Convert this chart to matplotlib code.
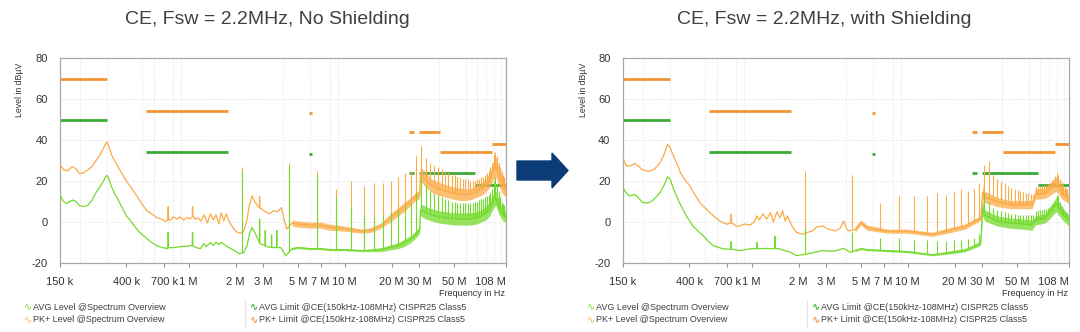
import numpy as np
import matplotlib.pyplot as plt
from matplotlib.patches import FancyArrow
from matplotlib.ticker import FixedLocator, FixedFormatter, LogLocator, NullFormatter

plt.rcParams['font.family'] = ['Liberation Sans', 'DejaVu Sans']
plt.rcParams['axes.unicode_minus'] = False

# ---- data (frequency in MHz, level in dBuV) ----
titles = ['CE, Fsw = 2.2MHz, No Shielding', 'CE, Fsw = 2.2MHz, with Shielding']

tick_pos = [0.15, 0.4, 0.7, 1, 2, 3, 5, 7, 10, 20, 30, 50, 108]
tick_labels = ['150 k', '400 k', '700 k', '1 M', '2 M', '3 M', '5 M', '7 M', '10 M',
               '20 M', '30 M', '50 M', '108 M']

# CISPR25 class 5 limits
pk_lim_start = [0.15, 0.53, 5.9, 26, 30, 41, 88]
pk_lim_stop = [0.3, 1.8, 6.2, 28, 41, 88, 108]
pk_lim_level = [70, 54, 53, 44, 44, 34, 38]
avg_lim_start = [0.15, 0.53, 5.9, 26, 30, 68]
avg_lim_stop = [0.3, 1.8, 6.2, 28, 68, 108]
avg_lim_level = [50, 34, 33, 24, 24, 18]

# switching harmonics
harm_f = [2.2, 4.4, 6.6, 8.8, 11.0, 13.2, 15.4, 17.6, 19.8, 22.0,
          24.2, 26.4, 28.6, 30.8, 33.0, 35.2, 37.4, 39.6, 41.8, 44.0,
          46.2, 48.4, 50.6, 52.8, 55.0, 57.2, 59.4, 61.6, 63.8, 66.0,
          68.2, 70.4, 72.6, 74.8, 77.0, 79.2, 81.4, 83.6, 85.8, 88.0,
          90.2, 92.4, 94.6, 96.8, 99.0, 101.2, 103.4, 105.6, 107.8]

# no shielding: PK+ level
pk_f_ns = [0.15, 0.158, 0.168, 0.18, 0.19, 0.2, 0.212, 0.225, 0.24, 0.258,
           0.272, 0.285, 0.295, 0.3, 0.31, 0.322, 0.335, 0.35, 0.375, 0.4,
           0.43, 0.466, 0.5, 0.54, 0.58, 0.626, 0.67, 0.71, 0.735, 0.74,
           0.745, 0.77, 0.8, 0.84, 0.88, 0.93, 0.98, 1.02, 1.055, 1.06,
           1.065, 1.1, 1.15, 1.2, 1.26, 1.32, 1.38, 1.44, 1.5, 1.56,
           1.62, 1.68, 1.74, 1.8, 1.86, 1.95, 2.05, 2.15, 2.25, 2.35,
           2.45, 2.55, 2.65, 2.8, 2.845, 2.85, 2.855, 3.1, 3.3, 3.5,
           3.7, 3.93, 4.1, 4.25, 4.6, 5.0, 6.0, 7.0, 8.0, 10.0,
           13.0, 15.0, 17.0, 20.0, 22.0, 24.0, 26.0, 28.0, 30.2, 30.6,
           33.0, 36.0, 40.0, 45.0, 50.0, 55.0, 60.0, 65.0, 70.0, 75.0,
           80.0, 85.0, 90.0, 93.0, 97.0, 102.0, 108.0]
pk_ns = [28, 25.5, 25, 27, 26, 23.5, 24, 25.3, 27, 30.5,
         33, 36, 38.5, 39, 36.5, 32.5, 30, 27.5, 23.5, 20,
         16.5, 12.7, 9, 5.5, 4, 2.2, 1.5, 0.3, 0.8, 7.5,
         1, 1, 2.5, 1.4, 2.5, 1, 2.2, 1.5, 2.5, 7.5,
         3, 1.4, 2, 0.5, 3.5, -0.5, 4, 1, 3.5, -1,
         4.5, 0.5, 4, 1, -1, -3.5, -5, -5.5, -4.5, 0,
         8, 12.7, 10, 7.5, 7, 12.5, 7, 5, 4, 5.5,
         5, 7, 1, -3.5, -0.5, -1, -1.5, -1.5, -2.5, -3.3,
         -4.5, -3.8, -1.8, 2.7, 5, 7.2, 9.5, 12, 13.5, 23.5,
         20.5, 17.8, 16.2, 15, 14, 13.5, 13.2, 13.7, 14.7, 16,
         17.7, 20.5, 25.5, 27, 22.5, 18, 15]

# no shielding: AVG level
avg_f_ns = [0.15, 0.158, 0.166, 0.18, 0.19, 0.2, 0.212, 0.225, 0.24, 0.258,
            0.272, 0.285, 0.298, 0.305, 0.315, 0.322, 0.335, 0.35, 0.375, 0.4,
            0.43, 0.466, 0.5, 0.54, 0.58, 0.626, 0.68, 0.735, 0.74, 0.745,
            0.8, 0.89, 0.98, 1.055, 1.06, 1.065, 1.12, 1.19, 1.25, 1.3,
            1.38, 1.44, 1.5, 1.56, 1.62, 1.7, 1.77, 1.86, 1.98, 2.1,
            2.25, 2.37, 2.45, 2.55, 2.65, 2.845, 2.85, 2.855, 3.09, 3.1,
            3.11, 3.33, 3.39, 3.4, 3.41, 3.66, 3.67, 3.68, 3.9, 4.2,
            4.6, 5.0, 6.0, 7.0, 8.0, 10.0, 13.0, 15.0, 17.0, 20.0,
            22.0, 24.0, 26.0, 28.0, 30.2, 30.6, 33.0, 36.0, 40.0, 45.0,
            50.0, 55.0, 60.0, 65.0, 70.0, 75.0, 80.0, 85.0, 90.0, 93.0,
            97.0, 102.0, 108.0]
avg_ns = [13.2, 10, 9, 10.7, 10, 8, 7.6, 8, 10.5, 15,
          17.5, 20, 22.7, 22, 19, 17, 14, 11.5, 7, 3,
          0, -3.5, -6, -8, -10, -11.6, -12.5, -13, -5, -12.5,
          -12.5, -12, -11.8, -11.5, -5, -11.5, -12.5, -13, -10.5, -12,
          -10, -11.5, -9.8, -11, -10, -11, -12, -13, -14, -15.5,
          -15, -11.6, -6, -2.7, -5, -10, 1.4, -10.5, -11.5, -4.2,
          -11.8, -12.4, -12.4, -6.3, -12.4, -12.5, -4.2, -12.5, -12.5, -16.5,
          -13, -12.5, -13, -13, -13.5, -13.5, -14, -13.75, -13.5, -12.25,
          -11.5, -10.25, -8.75, -6.75, -3.75, 6, 4.5, 3.5, 2.5, 2,
          1.5, 1.5, 1.5, 1.5, 2, 3, 4.25, 6.5, 10.5, 11.5,
          7.5, 4, 2.25]

# no shielding: spread of the noisy part
band_f_ns = [4.6, 5, 6, 7, 8, 10, 13, 15, 17, 20,
             22, 24, 26, 28, 30.2, 30.6, 33, 36, 40, 45,
             50, 55, 60, 65, 70, 75, 80, 85, 90, 93,
             97, 102, 108]
pk_lo_ns = [-2, -2.5, -3, -3, -4, -4.5, -5.5, -5, -3, 0.5,
            3, 5, 7.5, 10, 11.5, 20, 17, 14.5, 13, 12,
            11, 10.5, 10.5, 11, 12, 13, 14.5, 17, 21, 22,
            18, 14, 12]
pk_hi_ns = [1, 0.5, 0, 0, -1, -2, -3.5, -2.5, -0.5, 4.5,
            7, 9.5, 11.5, 14, 15.5, 27, 24, 21, 19.5, 18,
            17, 16.5, 16, 16.5, 17.5, 19, 21, 24, 30, 32,
            27, 22, 18]
avg_lo_ns = [-13.5, -13, -13.5, -13.5, -14, -14, -14.5, -14.5, -14.5, -13.5,
             -13, -12, -10.5, -8.5, -5.5, 3, 1.5, 0.5, -0.5, -1,
             -1.5, -1.5, -1.5, -1.5, -1, 0, 1, 3, 7, 8,
             4, 1, -0.5]
avg_hi_ns = [-12.5, -12, -12.5, -12.5, -13, -13, -13.5, -13, -12.5, -11,
             -10, -8.5, -7, -5, -2, 9, 7.5, 6.5, 5.5, 5,
             4.5, 4.5, 4.5, 4.5, 5, 6, 7.5, 10, 14, 15,
             11, 7, 5]

pk_spike_ns = [27, 29, 25, 16, 20, 17.5, 19, 19, 20, 22,
               24, 25, 32, 37, 31, 29, 28, 27, 26, 25,
               24, 23, 23, 22, 22, 21, 21, 21, 20, 20,
               20, 21, 21, 22, 22, 23, 24, 25, 27, 29,
               33, 34, 32, 29, 27, 25, 23, 22, 21]
avg_spike_ns = [25, 28, 23, 12, 8, 4, 3, 4, 5, 6,
                8, 10, 14, 22, 18, 15, 14, 13, 12, 11,
                10.5, 10, 10, 9.5, 9.5, 9.5, 9.5, 9.5, 9.5, 9.5,
                10, 10, 10.5, 11, 11, 12, 12.5, 13, 14, 16,
                20, 22, 19, 15, 12, 10, 9, 8.5, 8]

# with shielding: PK+ level
pk_f_ws = [0.15, 0.158, 0.168, 0.179, 0.19, 0.198, 0.21, 0.224, 0.24, 0.259,
           0.275, 0.289, 0.3, 0.316, 0.335, 0.35, 0.375, 0.403, 0.435, 0.467,
           0.5, 0.54, 0.58, 0.625, 0.69, 0.735, 0.74, 0.745, 0.8, 0.84,
           0.9, 0.98, 1.04, 1.08, 1.12, 1.18, 1.25, 1.32, 1.38, 1.45,
           1.52, 1.58, 1.64, 1.7, 1.76, 1.85, 1.94, 2.1, 2.3, 2.47,
           2.6, 2.85, 3.1, 3.47, 3.7, 3.89, 4.05, 4.18, 4.6, 5.0,
           5.5, 7.4, 10.0, 14.4, 19.2, 23.3, 28.3, 29.4, 30.2, 31.1,
           37.5, 45.0, 54.0, 62.6, 65.7, 76.0, 89.5, 98.0, 108.0]
pk_ws = [30.8, 27.2, 27.5, 28.5, 27, 25.6, 25, 24.8, 26, 28.9,
         33, 37.8, 36.5, 32, 28, 24, 20.5, 17.5, 13, 9.5,
         7, 4.6, 2.5, 0.5, -1.1, -0.5, 3.7, -0.5, -2, -1.9,
         -1, -1.5, 0, 3, 1, 4, 1.4, 4.5, 0, 5,
         2, 5.5, 0.5, 3, 0, -3, -5.1, -5.9, -5, -4.3,
         -2.5, -1.9, -3.5, -4.3, -3, 0.5, -3, -4.3, -3.75, -0.25,
         -2.75, -4.5, -4.5, -6, -3.75, -2.25, 1.25, 2.25, 14.5, 12.25,
         9.75, 8.5, 8.5, 8.5, 13.5, 14, 18.5, 13.75, 11]

# with shielding: AVG level
avg_f_ws = [0.15, 0.158, 0.165, 0.179, 0.19, 0.2, 0.215, 0.226, 0.24, 0.259,
            0.275, 0.29, 0.3, 0.323, 0.34, 0.358, 0.385, 0.42, 0.455, 0.49,
            0.53, 0.57, 0.62, 0.66, 0.735, 0.74, 0.745, 0.84, 0.98, 1.075,
            1.08, 1.085, 1.15, 1.25, 1.405, 1.41, 1.415, 1.5, 1.6, 1.75,
            1.94, 2.1, 2.3, 2.47, 2.85, 3.2, 3.47, 3.89, 4.3, 4.6,
            5.0, 5.5, 7.4, 10.0, 14.4, 19.2, 23.3, 28.3, 29.4, 30.2,
            31.1, 37.5, 45.0, 54.0, 62.6, 65.7, 76.0, 89.5, 98.0, 108.0]
avg_ws = [16.7, 14, 12.7, 13.4, 11.5, 9.5, 9.3, 9.8, 11.5, 14.3,
          18, 22.1, 21, 14.3, 10.5, 7, 2.5, -1.9, -4.5, -6.7,
          -9.5, -11.6, -12.5, -13.1, -13.3, -9.6, -13.3, -13.9, -13.1, -13,
          -10, -13, -13, -12.9, -13, -7, -13, -13, -13.9, -14.5,
          -16.4, -16, -15.5, -15, -13.9, -14.3, -14, -12.9, -14.8, -14,
          -13, -13.5, -14, -14.5, -16, -14.75, -13.75, -11, -9.75, 7,
          3.25, 0.5, -0.5, -1, -1.5, 0.75, 1.75, 8.5, 4, 0.5]

# with shielding: spread of the noisy part
band_f_ws = [4.6, 5.0, 5.5, 7.4, 10, 14.4, 19.2, 23.3, 28.3, 29.4,
             30.2, 31.1, 37.5, 45, 54, 62.6, 65.7, 76, 89.5, 98,
             108]
pk_lo_ws = [-5, -1.5, -4, -5.5, -5.5, -7, -5, -3.5, 0, 1,
            11, 9.5, 7.5, 6.5, 6.5, 6.5, 11, 11.5, 15, 11,
            9]
pk_hi_ws = [-2.5, 1, -1.5, -3.5, -3.5, -5, -2.5, -1, 2.5, 3.5,
            18, 15, 12, 10.5, 10.5, 10.5, 16, 16.5, 22, 16.5,
            13]
avg_lo_ws = [-14.5, -13.5, -14, -14.5, -15, -16.5, -15.5, -14.5, -12, -11,
             3, 0.5, -2, -3, -3.5, -4, -1.5, -0.5, 5, 1,
             -2]
avg_hi_ws = [-13.5, -12.5, -13, -13.5, -14, -15.5, -14, -13, -10, -8.5,
             11, 6, 3, 2, 1.5, 1, 3, 4, 12, 7,
             3]

pk_spike_ws = [25, 23, 9.5, 12.7, 12.7, 12.7, 14.3, 13, 15, 16,
               15, 16, 19, 28, 30, 23, 21, 20, 19, 17.5,
               16.5, 16, 15.5, 15, 14.5, 14.3, 14, 13.5, 13, 17,
               17, 17.5, 17.5, 18, 18, 18.5, 19, 20, 21, 22.5,
               24, 23, 21, 19.5, 18, 17, 16.5, 16, 15.5]
avg_spike_ws = [-3, -5, -8, -8, -9, -9, -9.5, -9.5, -9, -9,
                -8.5, -8, -6, 14, 10, 7, 6, 5.5, 5, 4.5,
                4, 4, 3.5, 3.5, 3.5, 3.5, 3.5, 3.5, 3.5, 5.5,
                6, 6, 6, 6.5, 6.5, 7, 7.5, 8, 9, 10,
                13, 12.5, 10, 8, 6.5, 5.5, 5, 4.5, 4]

legend_labels = ['AVG Level @Spectrum Overview', 'PK+ Level @Spectrum Overview',
                 'AVG Limit @CE(150kHz-108MHz) CISPR25 Class5',
                 'PK+ Limit @CE(150kHz-108MHz) CISPR25 Class5']

# ---- colours ----
C_PK = '#fbab47'
C_AVG = '#74da2c'
C_PK_LIM = '#f39535'
C_AVG_LIM = '#3cab37'
C_TEXT = '#404040'
W, H = 1080, 332


def draw_panel(ax, pk_f, pk, avg_f, avg, band_f, pk_lo, pk_hi, avg_lo, avg_hi,
               pk_top, avg_top):
    ax.hlines(pk_lim_level, pk_lim_start, pk_lim_stop, color=C_PK_LIM, lw=2.0, zorder=2)
    ax.hlines(avg_lim_level, avg_lim_start, avg_lim_stop, color=C_AVG_LIM, lw=2.0, zorder=2)

    # PK+ trace
    ax.fill_between(band_f, pk_lo, pk_hi, color=C_PK, alpha=0.75, lw=0, zorder=3)
    ax.plot(pk_f, pk, color=C_PK, lw=0.9, zorder=3)
    foot = np.interp(np.log10(harm_f), np.log10(pk_f), pk)
    ax.vlines(harm_f, foot, pk_top, color=C_PK, lw=0.8, zorder=3)

    # AVG trace
    ax.fill_between(band_f, avg_lo, avg_hi, color=C_AVG, alpha=0.75, lw=0, zorder=4)
    ax.plot(avg_f, avg, color=C_AVG, lw=0.9, zorder=4)
    foot = np.interp(np.log10(harm_f), np.log10(avg_f), avg)
    ax.vlines(harm_f, foot, avg_top, color=C_AVG, lw=0.8, zorder=4)

    ax.set_xscale('log')
    ax.set_xlim(0.15, 108)
    ax.set_ylim(-20, 80)
    ax.set_yticks([-20, 0, 20, 40, 60, 80])
    ax.xaxis.set_major_locator(FixedLocator(tick_pos))
    ax.xaxis.set_major_formatter(FixedFormatter(tick_labels))
    ax.xaxis.set_minor_locator(LogLocator(base=10, subs=np.arange(1, 10), numticks=50))
    ax.xaxis.set_minor_formatter(NullFormatter())
    ax.grid(which='minor', axis='x', color='#d4d4d4', lw=0.6, ls=(0, (1, 2)))
    ax.grid(which='major', axis='y', color='#d4d4d4', lw=0.6, ls=(0, (1, 2)))
    ax.grid(which='major', axis='x', visible=False)
    ax.set_axisbelow(True)
    for s in ax.spines.values():
        s.set_color('#a8a8a8')
        s.set_linewidth(0.9)
    ax.tick_params(axis='x', which='major', length=3, color='#909090', pad=7,
                   labelsize=8, labelcolor='#333333')
    ax.tick_params(axis='x', which='minor', length=0)
    ax.tick_params(axis='y', length=0, pad=9, labelsize=8, labelcolor='#333333')
    ax.get_xticklabels()[-1].set_horizontalalignment('right')


fig = plt.figure(figsize=(W / 100, H / 100), dpi=100)

panels = [
    (60, pk_f_ns, pk_ns, avg_f_ns, avg_ns, band_f_ns, pk_lo_ns, pk_hi_ns,
     avg_lo_ns, avg_hi_ns, pk_spike_ns, avg_spike_ns),
    (623, pk_f_ws, pk_ws, avg_f_ws, avg_ws, band_f_ws, pk_lo_ws, pk_hi_ws,
     avg_lo_ws, avg_hi_ws, pk_spike_ws, avg_spike_ws),
]
title_x = [267, 824]
legend_x = [(33, 259), (596, 821)]

for i, (x0, *data) in enumerate(panels):
    ax = fig.add_axes([x0 / W, 1 - 263 / H, 446 / W, 205 / H])
    draw_panel(ax, *data)

    fig.text(title_x[i] / W, 1 - 20 / H, titles[i], ha='center', va='center',
             fontsize=14, color=C_TEXT)
    fig.text((x0 - 40) / W, 1 - 63 / H, 'Level in dBµV', rotation=90,
             ha='center', va='top', fontsize=6.3, color='#333333')
    fig.text((x0 + 445) / W, 1 - 293 / H, 'Frequency in Hz', ha='right',
             va='center', fontsize=6.5, color='#333333')

    # legend block
    lx1, lx2 = legend_x[i]
    rows = [1 - 307 / H, 1 - 320 / H]
    entries = [(lx1, rows[0], legend_labels[0], C_AVG, 'normal'),
               (lx1, rows[1], legend_labels[1], C_PK, 'normal'),
               (lx2, rows[0], legend_labels[2], C_AVG_LIM, 'bold'),
               (lx2, rows[1], legend_labels[3], C_PK_LIM, 'bold')]
    for lx, ly, label, col, wt in entries:
        fig.text((lx - 1) / W, ly, '\u223f', ha='right', va='center', fontsize=7,
                 color=col, fontweight=wt, family=['DejaVu Sans'])
        fig.text(lx / W, ly, label, ha='left', va='center', fontsize=6.5,
                 color=C_TEXT)
    fig.add_artist(plt.Line2D([(lx2 - 14) / W] * 2, [1 - 300 / H, 1 - 328 / H],
                              color='#e6e6e6', lw=0.8))

# arrow between the two panels
fig.add_artist(FancyArrow(517 / W, 1 - 170.5 / H, 51 / W, 0, width=19 / H,
                          head_width=35 / H, head_length=16 / W,
                          length_includes_head=True, color='#0c3c78',
                          transform=fig.transFigure))

fig.savefig('out.png', dpi=100)
